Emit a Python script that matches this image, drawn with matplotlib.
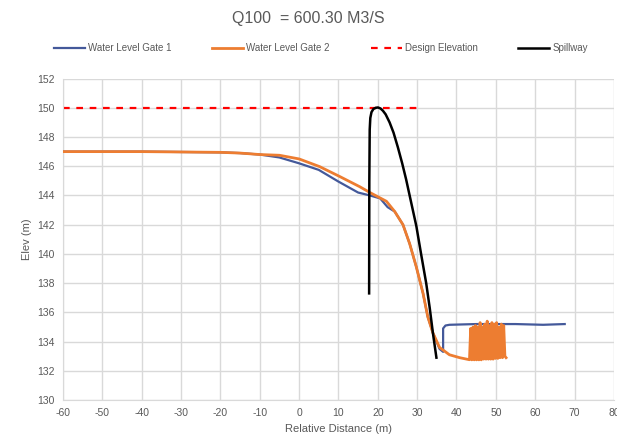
import matplotlib
matplotlib.use("Agg")
import matplotlib.pyplot as plt

plt.rcParams['font.family'] = ['Liberation Sans', 'DejaVu Sans']
plt.rcParams['axes.unicode_minus'] = False

# ---- data ----
gate1_x = [-60, -40, -20, -15, -10, -5, 0, 5, 10, 15, 18, 20.6, 22.5, 24.3, 26.4, 28.1, 29.8, 31.5, 32.7, 34.0, 35.7,
           36.6, 36.6, 37.2, 38.2, 45, 55, 62, 67.5]
gate1_y = [147.0, 147.0, 146.95, 146.9, 146.8, 146.6, 146.2, 145.75, 144.95, 144.2, 144.0, 143.8, 143.2, 142.9, 142.0,
           140.7, 139.1, 137.3, 135.7, 134.6, 133.5,
           133.3, 134.9, 135.1, 135.15, 135.2, 135.2, 135.15, 135.2]

gate2_x = [-60, -40, -20, -15, -10, -5, 0, 5.25, 10.3, 15.4, 18, 22.2, 24.3, 26.4, 28.1, 29.8, 31.5, 32.7, 34.0, 35.7,
           38.2, 40.8, 43.3,
           43.6, 43.9, 44.2, 44.5, 44.8, 45.1, 45.4, 45.7, 46.0, 46.3, 46.6, 46.9, 47.2, 47.5, 47.8, 48.1, 48.4, 48.7,
           49.0, 49.3, 49.6, 49.9, 50.2, 50.5, 50.8, 51.1, 51.4, 51.7, 52.0, 52.3, 52.6]
gate2_y = [147.0, 147.0, 146.95, 146.9, 146.8, 146.75, 146.5, 145.97, 145.3, 144.6, 144.2, 143.6, 142.9, 142.0, 140.7,
           139.1, 137.3, 135.7, 134.6, 133.6,
           133.1, 132.9, 132.76,
           134.9, 132.75, 135.0, 132.75, 135.1, 132.75, 135.0, 132.75, 135.3, 132.75, 135.0, 132.8, 135.2, 132.8,
           135.4, 132.8, 135.1, 132.8, 135.3, 132.8, 135.2, 132.85, 135.3, 132.85, 135.0, 132.9, 135.2, 132.9,
           135.1, 133.0, 132.9]

design_x = [-60, 30]
design_y = [150, 150]

spill_x = [17.8, 17.85, 17.95, 18.1, 18.4, 18.9, 19.5, 20.06, 20.7, 21.3, 22.0, 23.0, 24.0, 25.1, 26.2, 27.2, 28.5,
           29.8, 31.0, 32.3, 33.2, 34.0, 34.9]
spill_y = [137.3, 145.0, 148.5, 149.3, 149.7, 149.92, 150.0, 150.02, 149.95, 149.8, 149.55, 149.0, 148.3, 147.3,
           146.2, 145.1, 143.5, 141.9, 140.0, 138.0, 136.3, 134.6, 132.9]

x_ticks = list(range(-60, 81, 10))
y_ticks = list(range(130, 153, 2))

# ---- figure ----
fig = plt.figure(figsize=(6.17, 4.45), dpi=100)
ax = fig.add_axes([0.102, 0.101, 0.893, 0.7225])

grid_c = '#d9d9d9'
text_c = '#595959'

ax.plot(gate1_x, gate1_y, color='#44599a', lw=1.6, label='Water Level Gate 1', zorder=3)
ax.plot(gate2_x, gate2_y, color='#ed7d31', lw=2.0, label='Water Level Gate 2', zorder=4)
ax.plot(design_x, design_y, color='#ff0000', lw=1.6, ls=(0, (3, 3)), label='Design Elevation', zorder=2)
ax.plot(spill_x, spill_y, color='black', lw=1.8, label='Spillway', zorder=5)

ax.set_xlim(-60, 80)
ax.set_ylim(130, 152)
ax.set_xticks(x_ticks)
ax.set_yticks(y_ticks)
ax.grid(True, color=grid_c, lw=1.0)
ax.set_axisbelow(True)
for s in ['top', 'right']:
    ax.spines[s].set_visible(False)
for s in ['left', 'bottom']:
    ax.spines[s].set_color(grid_c)
ax.tick_params(length=0, labelsize=7.5, colors=text_c, pad=6)

ax.set_xlabel('Relative Distance (m)', fontsize=8, color=text_c, labelpad=4)
ax.set_ylabel('Elev (m)', fontsize=8, color=text_c, labelpad=4)

fig.text(0.5, 0.958, 'Q100  = 600.30 M3/S', ha='center', va='center', fontsize=11.5, color=text_c)
fig.legend(loc='center', bbox_to_anchor=(0.52, 0.892), ncol=4, frameon=False, fontsize=7,
           handlelength=3.2, handletextpad=0.3, columnspacing=4.2, labelcolor=text_c)

fig.savefig('out.png', dpi=100)
